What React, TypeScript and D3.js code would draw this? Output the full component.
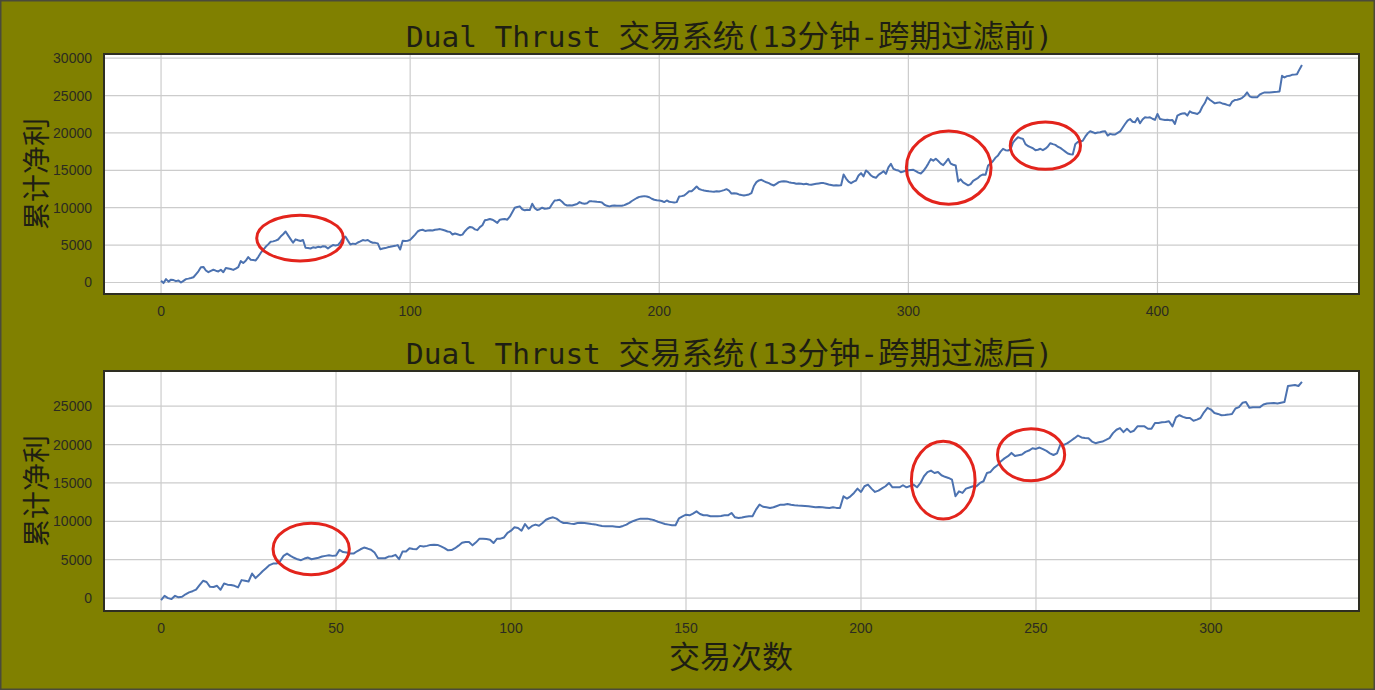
// Dual Thrust 累计净利曲线 - 跨期过滤前/后对比
import React, { useEffect, useRef } from 'react';
import * as d3 from 'd3';

// 跨期过滤前 (13分钟) 每笔交易后的累计净利
const beforeFilter = [
  230, -80, 450, 120, 380, 320, 180, 260, 0, 220,
  450, 520, 600, 700, 1100, 1500, 2050, 2080, 1600, 1380,
  1560, 1700, 1580, 1480, 1700, 1380, 1950, 1880, 1800, 1680,
  1850, 2050, 2860, 2600, 2900, 3400, 3050, 3000, 2950, 3400,
  3950, 4350, 4770, 5100, 5450, 5500, 5600, 5750, 6140, 6450,
  6820, 6300, 5800, 5320, 5770, 5650, 5550, 5680, 4640, 4600,
  4550, 4700, 4650, 4770, 4700, 4860, 4800, 4550, 4800, 5000,
  4950, 5000, 5400, 5900, 6140, 5600, 5090, 5200, 5140, 5350,
  5500, 5680, 5600, 5680, 5450, 5320, 5300, 5230, 4450, 4550,
  4600, 4700, 4770, 4850, 4900, 5000, 4410, 5590, 5550, 5590,
  5700, 6050, 6400, 6820, 7000, 7050, 6900, 6950, 7000, 6950,
  7050, 7100, 7140, 7050, 6950, 6820, 6770, 6420, 6550, 6450,
  6330, 6400, 6860, 7200, 7430, 7350, 7100, 7000, 7400, 7650,
  8320, 8400, 8500, 8400, 8200, 7960, 8400, 8450, 8500, 8400,
  8800, 9400, 10000, 10100, 10180, 9800, 9650, 9740, 9680, 10530,
  9950, 9700, 9800, 10000, 9870, 9900, 9960, 10500, 10970, 11000,
  11060, 10800, 10450, 10300, 10320, 10300, 10400, 10500, 10750, 10600,
  10530, 10600, 10880, 10850, 10840, 10800, 10780, 10700, 10400, 10250,
  10180, 10250, 10300, 10280, 10250, 10270, 10350, 10500, 10650, 10900,
  11100, 11300, 11450, 11500, 11550, 11500, 11400, 11200, 11060, 11000,
  10970, 10900, 10750, 10970, 10800, 10750, 10700, 10750, 11500, 11550,
  11640, 11900, 12210, 12200, 12500, 12830, 12500, 12390, 12300, 12250,
  12200, 12170, 12150, 12200, 12170, 12250, 12350, 12480, 12300, 11900,
  11950, 11900, 11780, 11700, 11640, 11700, 11780, 11950, 12900, 13420,
  13650, 13730, 13550, 13400, 13290, 13100, 12980, 13200, 13420, 13500,
  13550, 13500, 13420, 13350, 13300, 13200, 13250, 13200, 13150, 13200,
  13100, 13070, 13150, 13200, 13250, 13300, 13290, 13200, 13110, 13050,
  12980, 13000, 12980, 13000, 14440, 13900, 13500, 13290, 13500, 13640,
  14300, 14620, 14180, 14980, 14700, 14310, 14100, 14000, 14400, 14620,
  14890, 14530, 15400, 15870, 15200, 15050, 14980, 14750, 14850, 14980,
  15000, 15050, 15070, 14900, 14700, 14580, 14900, 15350, 15900, 16500,
  16300, 16550, 16240, 15900, 15700, 16100, 16550, 15900, 15750, 15650,
  13500, 13800, 13400, 13200, 13000, 13150, 13600, 13800, 14000, 14300,
  14450, 14400, 15650, 15900, 16250, 16700, 17000, 17500, 17880, 17700,
  17650, 17800, 18700, 19100, 19430, 19300, 19210, 18500, 18250, 18100,
  17950, 17700, 17750, 17880, 17700, 17900, 18200, 18630, 18500, 18400,
  18150, 18000, 17750, 17500, 17250, 17150, 17120, 18500, 18800, 18850,
  18950, 19500, 19950, 20230, 20100, 19960, 20050, 20100, 20200, 20230,
  19650, 19880, 19800, 19790, 20000, 20200, 20700, 21200, 21650, 21870,
  21500, 21430, 22000, 21300, 21800, 22090, 22050, 22090, 21900, 21740,
  22540, 21870, 21800, 21740, 21760, 21700, 21740, 21210, 22320, 22500,
  22600, 22630, 22320, 22890, 22700, 22630, 22540, 22800, 23500, 24000,
  24760, 24450, 24200, 23960, 24050, 24090, 23950, 23870, 23750, 23650,
  24200, 24400, 24450, 24530, 24700, 24980, 25420, 24900, 24760, 24780,
  24760, 25110, 25300, 25420, 25400, 25420, 25450, 25480, 25500, 25550,
  27640, 27420, 27600, 27640, 27770, 27800, 27860, 28500, 29100
];

// 跨期过滤后 (13分钟) 每笔交易后的累计净利
const afterFilter = [
  -260, 300, 0, -130, 300, 100, 170, 500, 750, 900,
  1100, 1700, 2250, 2100, 1470, 1450, 1600, 1080, 1900, 1750,
  1700, 1600, 1390, 2340, 2250, 2160, 3200, 2600, 3030, 3500,
  3900, 4300, 4500, 4500, 4800, 5500, 5800, 5500, 5250, 5050,
  4940, 5150, 5280, 5060, 5150, 5250, 5410, 5500, 5580, 5500,
  5550, 6280, 6000, 5930, 5800, 5800, 6100, 6360, 6580, 6450,
  6300, 5930, 5190, 5200, 5190, 5410, 5450, 5630, 5060, 6060,
  6060, 6490, 6400, 6360, 6800, 6710, 6800, 6930, 6950, 6930,
  6740, 6520, 6220, 6250, 6500, 6830, 7200, 7300, 7300, 6870,
  7260, 7740, 7740, 7700, 7610, 7170, 7740, 7740, 7900, 8500,
  8780, 9220, 9130, 8780, 9650, 9040, 9400, 9570, 9430, 9780,
  10200, 10400, 10520, 10350, 10000, 9780, 9780, 9700, 9650, 9780,
  9800, 9780, 9720, 9650, 9600, 9480, 9400, 9350, 9350, 9350,
  9300, 9260, 9400, 9570, 9850, 10050, 10220, 10350, 10350, 10350,
  10250, 10130, 9950, 9800, 9650, 9570, 9500, 9480, 10400, 10650,
  10870, 10780, 11000, 11300, 10960, 10800, 10780, 10650, 10650, 10650,
  10700, 10780, 10780, 11090, 10520, 10430, 10500, 10600, 10650, 10650,
  11520, 12170, 11900, 11830, 11740, 11830, 12000, 12170, 12170, 12260,
  12150, 12090, 12050, 12040, 12000, 11960, 11900, 11830, 11850, 11830,
  11780, 11740, 11830, 11750, 11740, 13260, 12960, 13260, 13700, 14260,
  13830, 14570, 14780, 14260, 13830, 14000, 14300, 14570, 15000, 14430,
  14450, 14430, 14700, 14430, 14600, 14780, 14430, 15000, 15870, 16400,
  16610, 16300, 16430, 16000, 15800, 15650, 15430, 13260, 13910, 13700,
  14260, 14400, 14570, 14570, 15000, 15220, 16300, 16430, 16960, 17300,
  17830, 18200, 18480, 18910, 18500, 18610, 18700, 19040, 19220, 19520,
  19430, 19610, 19400, 19170, 18860, 18640, 18860, 20040, 19960, 20180,
  20500, 20830, 21180, 20920, 20850, 20830, 20390, 20180, 20310, 20390,
  20600, 20830, 21490, 21930, 22150, 21620, 22060, 21620, 21800, 22370,
  22370, 22370, 22060, 22060, 22810, 22810, 22900, 22940, 23030, 22370,
  23550, 23820, 23600, 23460, 23460, 23110, 23250, 23460, 24200, 24780,
  24560, 24100, 23990, 23820, 23850, 23900, 23990, 24690, 24870, 25440,
  25530, 24780, 24850, 24870, 24870, 25220, 25350, 25380, 25400, 25350,
  25450, 25530, 27630, 27700, 27760, 27630, 28160
];

const titleBefore = ['Dual Thrust ', '交易系统', '(13', '分钟', '-', '跨期过滤前', ')'];
const titleAfter = ['Dual Thrust ', '交易系统', '(13', '分钟', '-', '跨期过滤后', ')'];
const xTicksBefore = [0, 100, 200, 300, 400];
const xTicksAfter = [0, 50, 100, 150, 200, 250, 300];
const yTicksBefore = [0, 5000, 10000, 15000, 20000, 25000, 30000];
const yTicksAfter = [0, 5000, 10000, 15000, 20000, 25000];
const yLabel = '累计净利';
const xLabel = '交易次数';

// 红圈标注: [中心交易序号, 中心净利, 半宽(笔), 半高(元)]
const marksBefore = [
  [55.8, 5930, 17.4, 3050],
  [316.2, 15360, 17.0, 4890],
  [355.0, 18290, 14.1, 3160]
];
const marksAfter = [
  [42.9, 6390, 10.9, 3350],
  [223.5, 15360, 9.1, 5060],
  [248.6, 18680, 9.6, 3390]
];

const W = 1375;
const H = 690;
const CJK = '"Noto Sans CJK SC", "Noto Sans CJK JP", sans-serif';
const MONO = '"DejaVu Sans Mono", "Liberation Mono", monospace';

const App: React.FC = () => {
  const svgRef = useRef<SVGSVGElement>(null);

  useEffect(() => {
    if (!svgRef.current) return;
    const svg = d3.select(svgRef.current);
    svg.selectAll('*').remove();

    svg.append('rect')
      .attr('x', 0.5).attr('y', 0.5)
      .attr('width', W - 1).attr('height', H - 1)
      .attr('fill', '#808000')
      .attr('stroke', '#4a4a3a')
      .attr('stroke-width', 2);

    const left = 104;
    const right = 1359;

    const drawPanel = (
      series: number[],
      top: number,
      bottom: number,
      title: string[],
      xTicks: number[],
      yTicks: number[],
      marks: number[][],
      id: string
    ) => {
      const n = series.length - 1;
      const [lo, hi] = d3.extent(series) as [number, number];
      const padY = (hi - lo) * 0.05;
      const padX = n * 0.05;

      const x = d3.scaleLinear().domain([-padX, n + padX]).range([left, right]);
      const y = d3.scaleLinear().domain([lo - padY, hi + padY]).range([bottom, top]);

      const g = svg.append('g');

      g.append('rect')
        .attr('x', left).attr('y', top)
        .attr('width', right - left).attr('height', bottom - top)
        .attr('fill', '#ffffff');

      // grid
      g.selectAll('.gx')
        .data(xTicks)
        .enter()
        .append('line')
        .attr('x1', d => x(d)).attr('x2', d => x(d))
        .attr('y1', top).attr('y2', bottom)
        .attr('stroke', '#cccccc')
        .attr('stroke-width', 1.2);

      g.selectAll('.gy')
        .data(yTicks)
        .enter()
        .append('line')
        .attr('x1', left).attr('x2', right)
        .attr('y1', d => y(d)).attr('y2', d => y(d))
        .attr('stroke', '#cccccc')
        .attr('stroke-width', 1.2);

      svg.append('defs')
        .append('clipPath')
        .attr('id', id)
        .append('rect')
        .attr('x', left).attr('y', top)
        .attr('width', right - left).attr('height', bottom - top);

      const line = d3.line<number>()
        .x((_, i) => x(i))
        .y(d => y(d));

      g.append('path')
        .attr('d', line(series) as string)
        .attr('fill', 'none')
        .attr('stroke', '#4c72b0')
        .attr('stroke-width', 2)
        .attr('stroke-linejoin', 'round')
        .attr('clip-path', `url(#${id})`);

      // frame
      g.append('rect')
        .attr('x', left).attr('y', top)
        .attr('width', right - left).attr('height', bottom - top)
        .attr('fill', 'none')
        .attr('stroke', '#2e2e22')
        .attr('stroke-width', 2);

      // tick labels
      g.selectAll('.tx')
        .data(xTicks)
        .enter()
        .append('text')
        .attr('x', d => x(d))
        .attr('y', bottom + 22)
        .attr('text-anchor', 'middle')
        .attr('font-family', '"Liberation Sans", Arial, sans-serif')
        .attr('font-size', 14)
        .attr('fill', '#2b2b20')
        .text(d => String(d));

      g.selectAll('.ty')
        .data(yTicks)
        .enter()
        .append('text')
        .attr('x', left - 12)
        .attr('y', d => y(d) + 5)
        .attr('text-anchor', 'end')
        .attr('font-family', '"Liberation Sans", Arial, sans-serif')
        .attr('font-size', 14)
        .attr('fill', '#2b2b20')
        .text(d => String(d));

      // title
      const t = g.append('text')
        .attr('x', (left + right) / 2 - 2)
        .attr('y', top - 7)
        .attr('text-anchor', 'middle')
        .attr('fill', '#1e1e14')
        .attr('textLength', 647)
        .attr('lengthAdjust', 'spacingAndGlyphs');
      title.forEach(part => {
        const ascii = /^[\x00-\x7f]+$/.test(part);
        t.append('tspan')
          .attr('font-family', ascii ? MONO : CJK)
          .attr('font-size', ascii ? 29 : 31)
          .text(part);
      });

      // y label
      g.append('text')
        .attr('transform', `translate(47,${(top + bottom) / 2}) rotate(-90)`)
        .attr('text-anchor', 'middle')
        .attr('font-family', CJK)
        .attr('font-size', 28)
        .attr('fill', '#1e1e14')
        .text(yLabel);

      // red circles
      g.selectAll('.mark')
        .data(marks)
        .enter()
        .append('ellipse')
        .attr('cx', d => x(d[0]))
        .attr('cy', d => y(d[1]))
        .attr('rx', d => x(d[2]) - x(0))
        .attr('ry', d => y(0) - y(d[3]))
        .attr('fill', 'none')
        .attr('stroke', '#e3241c')
        .attr('stroke-width', 3);
    };

    drawPanel(beforeFilter, 54, 294, titleBefore, xTicksBefore, yTicksBefore, marksBefore, 'clipBefore');
    drawPanel(afterFilter, 371, 611, titleAfter, xTicksAfter, yTicksAfter, marksAfter, 'clipAfter');

    svg.append('text')
      .attr('x', 731)
      .attr('y', 668)
      .attr('text-anchor', 'middle')
      .attr('font-family', CJK)
      .attr('font-size', 31)
      .attr('fill', '#1e1e14')
      .text(xLabel);
  }, []);

  return (
    <div style={{ position: 'absolute', left: 0, top: 0, width: W, height: H }}>
      <svg ref={svgRef} width={W} height={H} style={{ display: 'block' }} />
    </div>
  );
};

export default App;
